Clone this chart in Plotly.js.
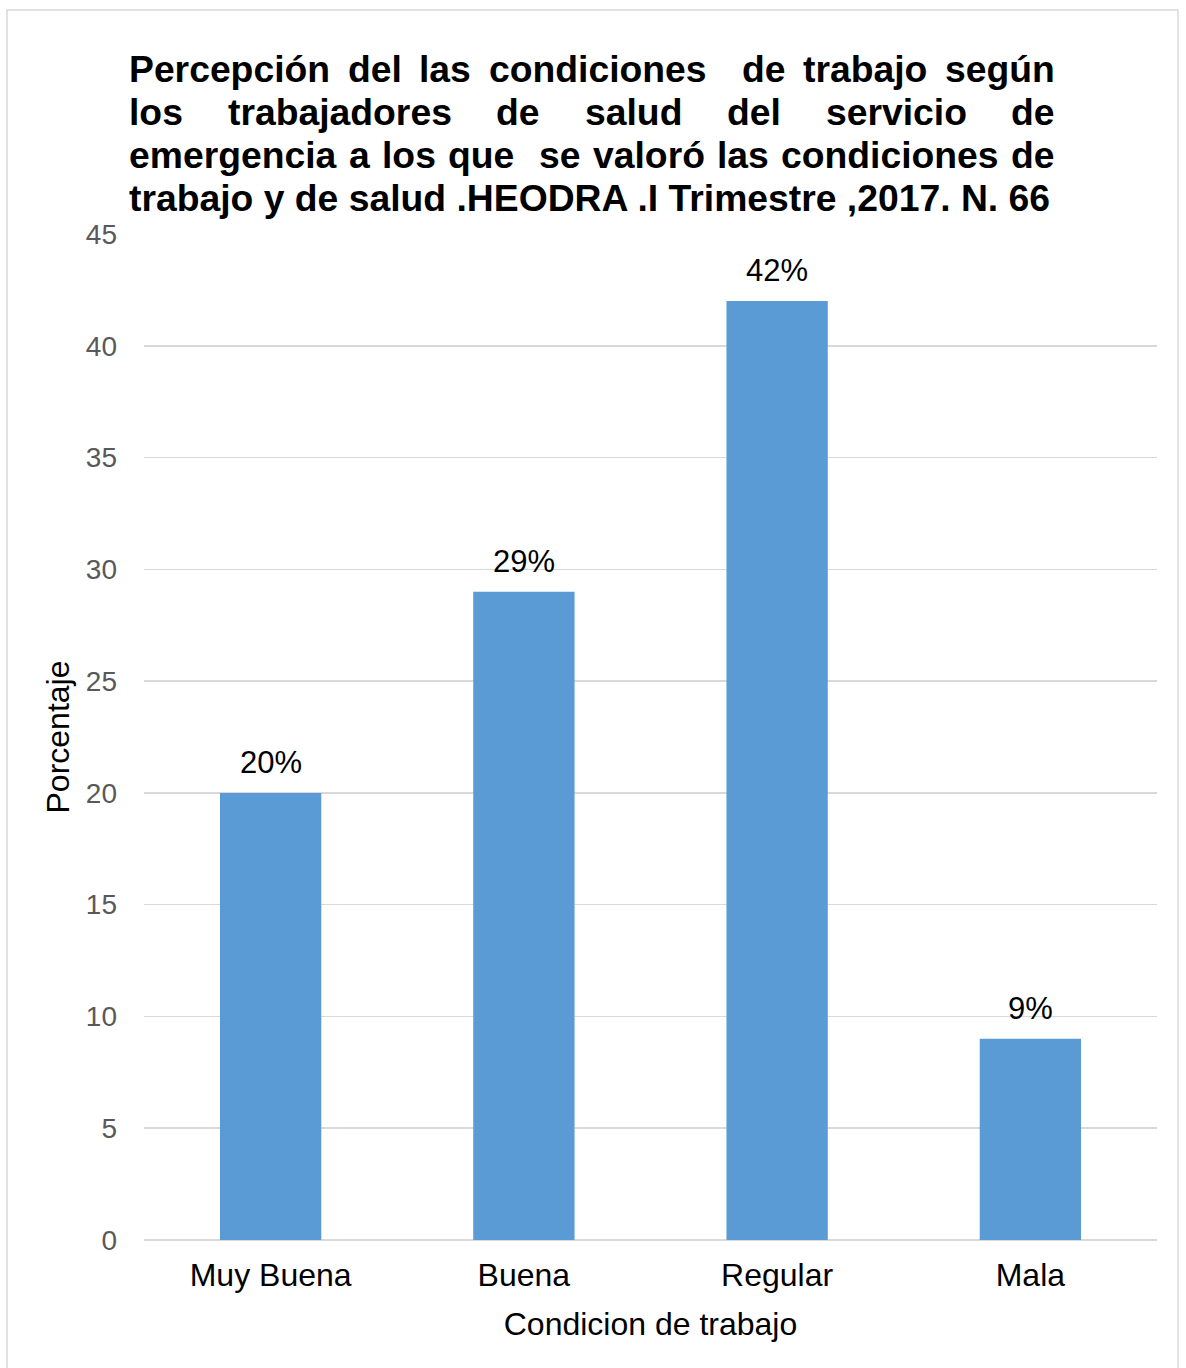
<!DOCTYPE html>
<html>
<head>
<meta charset="utf-8">
<script src="https://cdn.plot.ly/plotly-3.0.1.min.js"></script>
<style>html,body{margin:0;padding:0;background:#fff;}</style>
</head>
<body>
<div id="chart" style="width:1186px;height:1368px;"></div>
<script>
// ---- data ----
const categories = ['Muy Buena', 'Buena', 'Regular', 'Mala'];
const values = [20, 29, 42, 9];
const valueLabels = ['20%', '29%', '42%', '9%'];
const yTickValues = [0, 5, 10, 15, 20, 25, 30, 35, 40, 45];
const titleLines = [
  'Percepción del las condiciones  de trabajo según',
  'los trabajadores de salud del servicio de',
  'emergencia a los que  se valoró las condiciones de',
  'trabajo y de salud .HEODRA .I Trimestre ,2017. N. 66'
];
const xTitle = 'Condicion de trabajo';
const yTitle = 'Porcentaje';

// ---- layout constants ----
const W = 1186, H = 1368;
const M = {l: 144, r: 29, t: 234, b: 128};
const plotW = W - M.l - M.r, plotH = H - M.t - M.b;
const FONT = '"Liberation Sans", Arial, Helvetica, sans-serif';
const TITLE_SIZE = 37.3;
const LABEL_SIZE = 32;
const titleLeft = 128, titleRight = 1054;
const titleCenters = [69, 112, 155, 198];
const px2x = px => (px - M.l) / plotW;
const py2y = py => (H - M.b - py) / plotH;

// measure words to justify title lines
const ctx = document.createElement('canvas').getContext('2d');
ctx.font = 'bold ' + TITLE_SIZE + 'px "Liberation Sans", Arial, sans-serif';

const annotations = [];
titleLines.forEach((line, i) => {
  const isLast = i === titleLines.length - 1;
  if (isLast) {
    annotations.push({
      text: line, xref: 'paper', yref: 'paper', x: px2x(titleLeft), y: py2y(titleCenters[i]),
      xanchor: 'left', yanchor: 'middle', showarrow: false, borderpad: 0,
      font: {family: FONT, size: TITLE_SIZE, color: '#000', weight: 'bold'}
    });
    return;
  }
  const words = line.split(' ');
  const widths = words.map(w => ctx.measureText(w).width);
  const total = widths.reduce((a, b) => a + b, 0);
  const gap = (titleRight - titleLeft - total) / (words.length - 1);
  let cur = titleLeft;
  words.forEach((w, j) => {
    if (w.length) {
      annotations.push({
        text: w, xref: 'paper', yref: 'paper', x: px2x(cur), y: py2y(titleCenters[i]),
        xanchor: 'left', yanchor: 'middle', showarrow: false, borderpad: 0,
        font: {family: FONT, size: TITLE_SIZE, color: '#000', weight: 'bold'}
      });
    }
    cur += widths[j] + gap;
  });
});

// value labels
categories.forEach((c, i) => {
  annotations.push({
    text: valueLabels[i], x: c, y: values[i], xref: 'x', yref: 'y',
    xanchor: 'center', yanchor: 'bottom', yshift: 11, showarrow: false,
    font: {family: FONT, size: 31, color: '#000'}
  });
});

const trace = {
  type: 'bar', x: categories, y: values,
  marker: {color: '#5B9BD5', line: {width: 0}},
  hoverinfo: 'skip'
};

const layout = {
  width: W, height: H,
  margin: M,
  paper_bgcolor: '#fff', plot_bgcolor: '#fff',
  showlegend: false,
  bargap: 0.6,
  font: {family: FONT, color: '#000'},
  xaxis: {
    type: 'category', showgrid: false, zeroline: false, showline: false,
    ticks: '', ticklabelstandoff: 13,
    tickfont: {family: FONT, size: LABEL_SIZE, color: '#000'},
    title: {text: xTitle, font: {family: FONT, size: LABEL_SIZE, color: '#000'}, standoff: 20},
    automargin: false, fixedrange: true
  },
  yaxis: {
    range: [0, 45], tickvals: yTickValues, ticktext: yTickValues.map(String),
    showgrid: true, gridcolor: '#D9D9D9', gridwidth: 1.5,
    zeroline: true, zerolinecolor: '#D9D9D9', zerolinewidth: 1.5,
    showline: false, ticks: '', ticklabelstandoff: 26,
    tickfont: {family: FONT, size: 28, color: '#595959'},
    title: {text: yTitle, font: {family: FONT, size: LABEL_SIZE, color: '#000'}, standoff: 6},
    automargin: false, fixedrange: true
  },
  annotations: annotations,
  shapes: [{
    type: 'rect', xref: 'paper', yref: 'paper', layer: 'below',
    x0: px2x(7), x1: px2x(1178), y0: py2y(1375), y1: py2y(10),
    line: {color: '#D9D9D9', width: 1.5}, fillcolor: 'rgba(0,0,0,0)'
  }]
};

Plotly.newPlot('chart', [trace], layout, {staticPlot: true, displayModeBar: false});
</script>
</body>
</html>
